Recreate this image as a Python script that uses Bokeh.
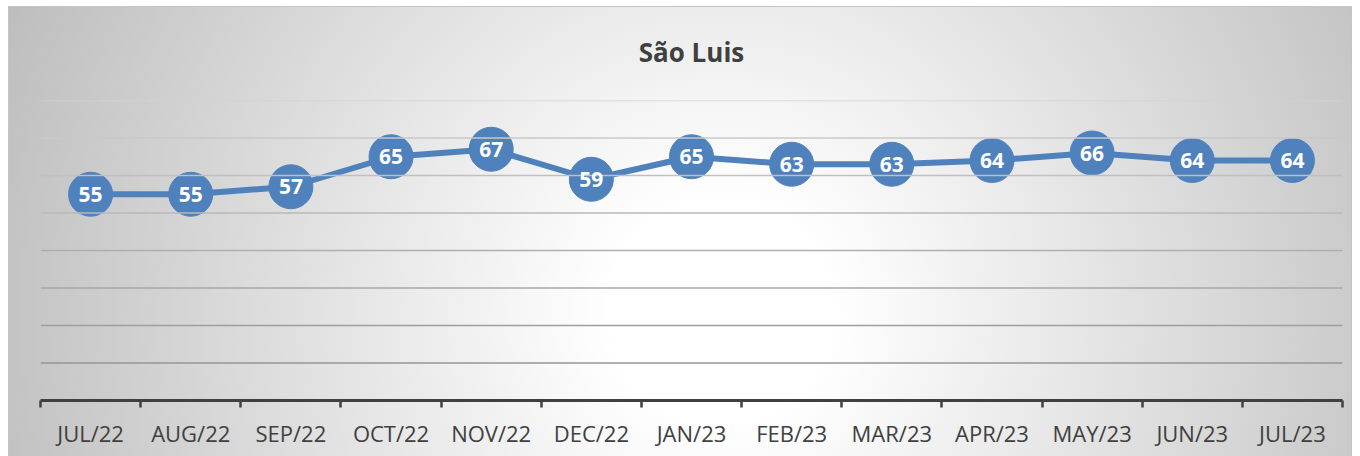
from bokeh.plotting import figure
from bokeh.models import ColumnDataSource, Range1d, FixedTicker, Span, LabelSet
from bokeh.core.properties import value
from bokeh.embed import file_html
from bokeh.resources import INLINE

categories = ["JUL/22", "AUG/22", "SEP/22", "OCT/22", "NOV/22", "DEC/22", "JAN/23",
              "FEB/23", "MAR/23", "APR/23", "MAY/23", "JUN/23", "JUL/23"]
values = [55, 55, 57, 65, 67, 59, 65, 63, 63, 64, 66, 64, 64]
title_text = "São Luis"
grid_values = [10, 20, 30, 40, 50, 60, 70, 80]

n = len(categories)
xs = [i + 0.5 for i in range(n)]
src = ColumnDataSource(dict(x=xs, y=values, lab=[str(v) for v in values]))

p = figure(width=1352, height=456, output_backend="svg", toolbar_location=None,
           x_range=Range1d(0, n), y_range=Range1d(0, 80),
           min_border_left=40, min_border_right=10, min_border_top=100, min_border_bottom=56)
p.background_fill_alpha = 0
p.border_fill_alpha = 0
p.outline_line_color = None
p.styles = {
    "background": (
        "radial-gradient(circle 780px at 53% 68%, #ffffff 0%, #ffffff 14%, #bdbdbd 100%) "
        "9px 7px / calc(100% - 10px) calc(100% - 7px) no-repeat, "
        "linear-gradient(#c4c4c4, #c4c4c4) 8px 6px / calc(100% - 8px) calc(100% - 6px) no-repeat, "
        "#ffffff"
    ),
}

p.title.text = title_text
p.title.align = "center"
p.title.text_font = "Open Sans"
p.title.text_font_style = "bold"
p.title.text_font_size = "26px"
p.title.text_color = "#404040"
p.title.standoff = 62

p.yaxis.visible = False
p.ygrid.visible = False
p.xgrid.visible = False

# gridlines, lighter toward the top
for i, g in enumerate(grid_values):
    t = i / (len(grid_values) - 1)
    c = int(150 + t * 60)
    p.add_layout(Span(location=g, dimension="width", line_color="#%02x%02x%02x" % (c, c, c), line_width=1.5))

ax = p.xaxis[0]
ax.ticker = FixedTicker(ticks=xs, minor_ticks=list(range(n + 1)))
ax.major_label_overrides = {x: c for x, c in zip(xs, categories)}
ax.major_tick_out = 0
ax.major_tick_in = 0
ax.minor_tick_out = 7
ax.minor_tick_in = 0
ax.minor_tick_line_color = "#404040"
ax.minor_tick_line_width = 2.5
ax.axis_line_color = "#404040"
ax.axis_line_width = 3
ax.major_label_text_font = "Open Sans"
ax.major_label_text_font_size = "22px"
ax.major_label_text_color = "#404040"
ax.major_label_standoff = 10

p.line("x", "y", source=src, line_color="#4f81bd", line_width=6)
p.scatter("x", "y", source=src, size=44, fill_color="#4f81bd", line_color="#4f81bd", line_width=1)
p.add_layout(LabelSet(x="x", y="y", text="lab", source=src, text_align="center",
                      text_baseline="middle", text_color="white", text_font_style="bold",
                      text_font=value("Open Sans"), text_font_size="21px"))

open("out.html", "w").write(file_html(p, INLINE))
